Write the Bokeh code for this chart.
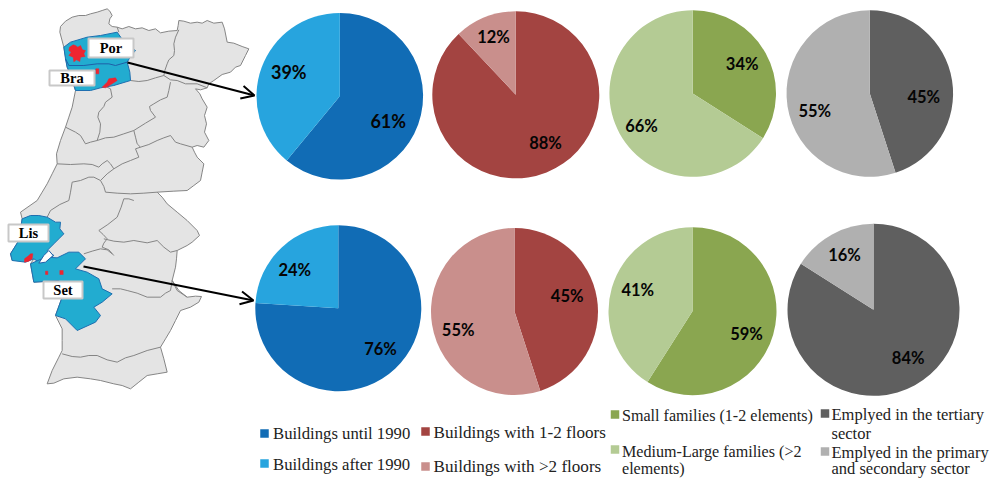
from math import pi
from bokeh.core.properties import value
from bokeh.embed import file_html
from bokeh.models import Arrow, OpenHead
from bokeh.plotting import figure
from bokeh.resources import INLINE

W, H = 993, 478

# Shares per pie (percent), first value is the darker slice, clockwise from 12 o'clock.
buildings_age = [[61, 39], [76, 24]]
buildings_floors = [[88, 12], [45, 55]]
family_size = [[34, 66], [59, 41]]
employment = [[45, 55], [84, 16]]

age_colors = ["#116CB5", "#27A4DE"]
floor_colors = ["#A34441", "#C98F8C"]
family_colors = ["#8AA650", "#B4CB94"]
employ_colors = ["#5F5F5F", "#B0B0B0"]

# Legend wording, one list per group.
age_legend = ["Buildings until 1990", "Buildings after 1990"]
floor_legend = ["Buildings with 1-2 floors", "Buildings with >2 floors"]
family_legend = [["Small families (1-2 elements)"], ["Medium-Large families (>2", "elements)"]]
employ_legend = [["Emplyed in the tertiary", "sector"], ["Emplyed in the primary", "and secondary  sector"]]

# Map outlines, in thirds of a pixel from the page's top-left corner.
country = [(178,95),(180,78),(195,62),(215,50),(235,45),(255,45),(270,40),(290,35),(305,30),(320,25),(328,32),
    (335,45),(328,55),(325,70),(335,78),(350,80),(365,85),(385,78),(405,85),(425,82),(445,90),(465,85),(480,97),
    (505,92),(530,90),(533,75),(535,60),(550,62),(570,68),(590,65),(605,68),(620,60),(640,68),(665,65),(672,85),
    (680,125),(700,128),(725,138),(745,145),(735,165),(720,195),(705,200),(690,215),(665,222),(640,240),(625,250),
    (620,262),(600,268),(585,265),(598,280),(605,295),(620,320),(612,345),(618,370),(612,395),(625,420),(610,440),
    (590,435),(575,440),(582,455),(590,470),(610,490),(605,515),(600,540),(580,555),(560,570),(520,572),(470,575),
    (485,590),(500,610),(530,635),(560,660),(590,690),(597,705),(575,725),(560,735),(530,750),(528,775),(525,800),
    (515,840),(535,870),(560,890),(585,887),(603,888),(595,905),(570,920),(540,930),(525,960),(510,990),(495,1015),
    (480,1040),(490,1075),(500,1115),(470,1120),(440,1125),(415,1145),(390,1165),(365,1155),(340,1150),(300,1140),
    (270,1135),(230,1130),(190,1135),(160,1148),(140,1150),(155,1110),(175,1070),(185,1050),(185,1020),(185,985),
    (165,945),(185,890),(175,840),(100,845),(90,790),(100,775),(35,780),(30,760),(55,720),(65,655),
    (60,635),(110,600),(125,575),(140,550),(155,520),(170,490),(168,460),(180,420),(195,380),(205,350),(215,320),
    (225,270),(212,235),(200,200),(195,170),(190,140)]
district_lines = [
    [(350,80),(355,95)],
    [(390,240),(415,243),(440,240),(465,232),(490,225),(510,238),(530,240),(555,250),(590,250),(620,262)],
    [(535,88),(525,110),(520,130),(522,150),(520,165),(505,178),(500,190),(493,210),(490,225)],
    [(510,245),(505,270),(500,290),(480,298),(460,310),(447,318),(450,330),(465,350),(435,368),(400,390),(370,400),
     (340,410),(315,412),(290,420),(298,395),(300,370),(292,350),(295,335),(310,318),(315,305),(335,290),(330,265),(310,255)],
    [(400,390),(405,410),(410,430),(420,440),(445,432),(470,420),(490,412),(510,405),(525,425),(540,430),(575,440)],
    [(195,380),(225,395),(240,405),(255,430),(270,425),(290,420)],
    [(420,440),(405,445),(415,470),(390,480),(365,490),(340,505),(330,490),(320,480),(305,490),(295,500),(275,492),
     (250,490),(210,492),(170,490)],
    [(340,505),(320,520),(300,540),(310,558),(315,575),(350,578),(390,580),(430,578),(470,575)],
    [(300,540),(280,530),(265,530),(240,540),(215,545),(210,575),(205,600),(178,612),(150,630),(140,650)],
    [(400,600),(385,595),(370,595),(362,620),(350,650),(322,672),(295,690),(308,702),(320,715),(310,728),(305,740),(325,748),(340,765)],
    [(310,715),(340,722),(370,725),(400,720),(440,727),(470,720),(490,740),(510,755),(530,750)],
    [(250,760),(275,752),(300,745),(320,748),(335,760)],
    [(335,865),(360,865),(380,870),(410,878),(440,890),(480,890),(495,878),(510,870),(515,840)],
    [(515,840),(530,870),(560,890)],
    [(185,1060),(215,1068),(240,1070),(265,1065),(290,1065),(320,1078),(350,1085),(375,1072),(400,1065),(440,1050),(480,1040)],
]
porto_braga = [(190,140),(210,125),(260,110),(300,105),(350,95),(362,112),(375,130),(405,150),(392,165),(380,185),(388,215),
    (390,240),(340,255),(300,262),(270,270),(225,270),(218,245),(215,230),(200,200),(195,175)]
porto_braga_divide = [(195,175),(205,195),(250,195),(290,190),(325,190),(345,195),(380,185)]
lisbon = [(65,655),(90,645),(115,645),(140,650),(165,665),(180,665),(178,685),(190,700),(175,715),(160,730),(140,750),(160,765),
    (130,785),(115,785),(100,775),(75,785),(35,780),(30,760),(55,720)]
setubal = [(90,790),(135,770),(170,772),(205,755),(235,755),(255,775),(225,805),(260,815),(295,835),(305,865),(335,880),
    (305,905),(280,920),(300,945),(285,965),(230,990),(195,955),(165,945),(185,890),(175,840),(135,843),(100,845)]
estuary = [(115,788),(130,765),(145,750),(158,765),(135,785)]
urban_patches = [
    [(207,140),(218,133),(225,135),(232,140),(240,135),(246,148),(255,150),(250,160),(254,168),(240,170),(238,183),(228,178),
     (220,184),(218,170),(205,165),(212,155),(205,150)],
    [(286,205),(295,205),(295,220),(286,220)],
    [(305,260),(320,245),(325,235),(345,232),(350,240),(335,250),(315,262)],
    [(72,775),(85,765),(90,760),(97,760),(95,775),(85,782),(72,785)],
    [(135,812),(142,812),(142,822),(135,822)],
    [(178,810),(188,810),(188,822),(178,822)],
]

# Place-name boxes: label, left, top, right, bottom.
place_boxes = [("Por", 88, 38, 133, 57), ("Bra", 49, 70, 94, 85), ("Lis", 8, 224, 48, 241), ("Set", 43, 281, 82, 298)]


def flip(py):
    return H - py


def xs(points):
    return [x / 3 for x, _ in points]


def ys(points):
    return [flip(y / 3) for _, y in points]


p = figure(width=W, height=H, x_range=(0, W), y_range=(0, H), output_backend="svg", toolbar_location=None,
           min_border=0, outline_line_color=None, background_fill_color="white")
p.axis.visible = False
p.grid.visible = False

# Map
p.patch(xs(country), ys(country), fill_color="#E4E4E4", line_color="#858585", line_width=1)
p.multi_line([xs(l) for l in district_lines], [ys(l) for l in district_lines], line_color="#858585", line_width=1)
for shape in (porto_braga, lisbon, setubal):
    p.patch(xs(shape), ys(shape), fill_color="#22ACD0", line_color="#1F6FB0", line_width=1)
p.line(xs(porto_braga_divide), ys(porto_braga_divide), line_color="#1F5FA8", line_width=1)
p.patch(xs(estuary), ys(estuary), fill_color="white", line_color="#1F5FA8", line_width=1)
p.patches([xs(s) for s in urban_patches], [ys(s) for s in urban_patches], fill_color="#EE2530", line_color="#EE2530", line_width=0.5)

for name, left, top, right, bottom in place_boxes:
    p.quad(left=left, right=right, top=flip(top), bottom=flip(bottom), fill_color="white", line_color="#C8C8C8", line_width=2)
    p.text([(left + right) / 2], [flip((top + bottom) / 2)], text=[name], text_align="center", text_baseline="middle",
           text_font=value("Liberation Serif"), text_font_style="bold", text_font_size="14.5px", text_color="black")

# Pies: group shares and colours, centres and radii per row, label positions.
rows = [
    [(339.3, 95.7, 83.3), (515.3, 94.3, 83.5), (692.2, 93, 83.3), (869.3, 93, 83.3)],
    [(337.8, 307.7, 83), (514, 311, 83.5), (692, 310.7, 84), (873, 309.3, 86)],
]
groups = [(buildings_age, age_colors), (buildings_floors, floor_colors), (family_size, family_colors), (employment, employ_colors)]
label_spots = [
    [[(387.7, 120.7), (288.3, 71.7)], [(545, 142.7), (493, 36.7)], [(741.7, 63.3), (641, 125)], [(923.3, 96.7), (814.3, 110.7)]],
    [[(380, 348.3), (294.3, 269.3)], [(566.7, 295), (457.7, 329)], [(746, 333.3), (637.3, 289)], [(907.7, 357.7), (844, 254.3)]],
]
label_sizes = [[["18px", "18px"], ["16.5px"] * 2, ["16.5px"] * 2, ["16.5px"] * 2], [["16.5px"] * 2] * 4]

for r, row in enumerate(rows):
    for g, (cx, cy, rad) in enumerate(row):
        shares, colors = groups[g]
        done = 0
        for i, share in enumerate(shares[r]):
            start = pi / 2 - 2 * pi * done / 100
            done += share
            end = pi / 2 - 2 * pi * done / 100
            p.wedge(x=cx, y=flip(cy), radius=rad, start_angle=start, end_angle=end, direction="clock",
                    fill_color=colors[i], line_color=None)
            lx, ly = label_spots[r][g][i]
            p.text([lx], [flip(ly)], text=[f"{share}%"], text_align="center", text_baseline="middle",
                   text_font=value("Lato"), text_font_style="bold", text_font_size=label_sizes[r][g][i], text_color="#050505")

# Arrows from the highlighted districts to their pie rows
for x0, y0, x1, y1 in [(127, 62, 254, 95), (83, 266, 253, 300)]:
    p.add_layout(Arrow(end=OpenHead(size=13, line_width=2, line_color="black"), x_start=x0, y_start=flip(y0), x_end=x1,
                       y_end=flip(y1), line_width=2, line_color="black"))

# Legend
swatches = [
    (264, 433, age_colors[0]), (264, 463, age_colors[1]),
    (425, 431, floor_colors[0]), (425, 466, floor_colors[1]),
    (614.5, 414, family_colors[0]), (614.5, 449, family_colors[1]),
    (824.5, 413, employ_colors[0]), (824.5, 451, employ_colors[1]),
]
legend_lines = [
    (272.5, 433, age_legend[0], "16.7px"), (272.5, 463.5, age_legend[1], "16.7px"),
    (433, 432, floor_legend[0], "17.1px"), (433, 465.5, floor_legend[1], "17.1px"),
    (621.5, 414.5, family_legend[0][0], "16.1px"), (621.5, 450.5, family_legend[1][0], "16.1px"), (621.5, 468, family_legend[1][1], "16.1px"),
    (831, 413.5, employ_legend[0][0], "16.5px"), (831, 432.5, employ_legend[0][1], "16.5px"),
    (831, 451.5, employ_legend[1][0], "16.5px"), (831, 468, employ_legend[1][1], "16.5px"),
]
for x, y, color in swatches:
    p.rect([x], [flip(y)], width=8.5, height=8.5, fill_color=color, line_color=None)
for x, y, line, size in legend_lines:
    p.text([x], [flip(y)], text=[line], text_align="left", text_baseline="middle",
           text_font=value("Liberation Serif"), text_font_size=size, text_color="#222222")

open("out.html", "w").write(file_html(p, INLINE))
